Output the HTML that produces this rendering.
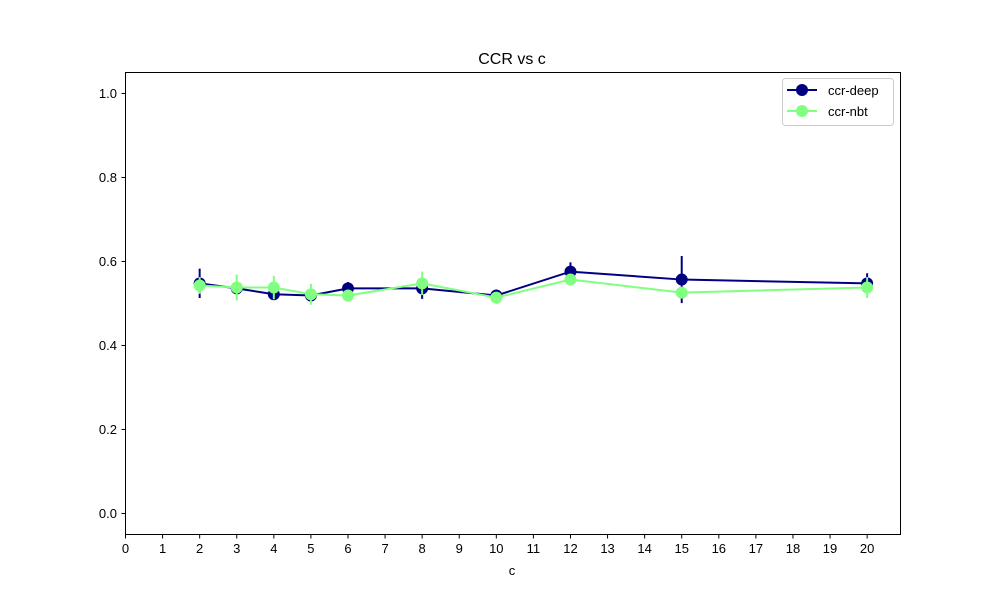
<!DOCTYPE html>
<html><head><meta charset="utf-8"><style>body{margin:0;background:#fff}svg{font-family:"Liberation Sans","DejaVu Sans",sans-serif}</style></head>
<body>
<svg id="chart" width="1000" height="600">
<rect width="1000" height="600" fill="#fff"/>
<text x="512" y="64" text-anchor="middle" font-size="16">CCR vs c</text>
<g id="axes"></g>
<g id="series"></g>
<rect x="125.5" y="72.5" width="775" height="462" fill="none" stroke="#000" stroke-width="1"/>
<text x="512" y="575" text-anchor="middle" font-size="13">c</text>
<g>
<rect x="782.5" y="78.5" width="111" height="47" rx="3" fill="#fff" stroke="#ccc"/>
<line x1="787" y1="90" x2="817" y2="90" stroke="#000080" stroke-width="2"/><circle cx="802" cy="90" r="6" fill="#000080"/>
<text x="828" y="95" font-size="13">ccr-deep</text>
<line x1="787" y1="111" x2="817" y2="111" stroke="#80ff80" stroke-width="2"/><circle cx="802" cy="111" r="6" fill="#80ff80"/>
<text x="828" y="116" font-size="13">ccr-nbt</text>
</g>
</svg>
<script>
const xs = [2,3,4,5,6,8,10,12,15,20];
const deepVals = [0.548,0.536,0.522,0.519,0.536,0.536,0.519,0.576,0.557,0.548];
const deepErr = [0.035,0.01,0.01,0.008,0.015,0.025,0.006,0.022,0.056,0.024];
const nbtVals = [0.543,0.538,0.538,0.522,0.519,0.548,0.514,0.557,0.526,0.538];
const nbtErr = [0.02,0.031,0.028,0.025,0.008,0.028,0.006,0.01,0.008,0.025];
const xTicks = [0,1,2,3,4,5,6,7,8,9,10,11,12,13,14,15,16,17,18,19,20];
const yTicks = [0.0,0.2,0.4,0.6,0.8,1.0];
const X = v => 125.5 + v/20.9*775;
const Y = v => 534.5 - (v+0.05)/1.1*462;
const NS="http://www.w3.org/2000/svg";
function mk(tag,attrs,parent){const e=document.createElementNS(NS,tag);for(const k in attrs)e.setAttribute(k,attrs[k]);parent.appendChild(e);return e;}
const ax=document.getElementById('axes');
xTicks.forEach(t=>{
  const l=mk('line',{x1:X(t),x2:X(t),y1:534.5,y2:538.5,stroke:'#000'},ax);
  
  
  const tx=mk('text',{x:X(t),y:553,'text-anchor':'middle','font-size':13},ax);tx.textContent=t;
  
  
});
yTicks.forEach(t=>{
  const l=mk('line',{x1:121.5,x2:125.5,y1:Y(t),y2:Y(t),stroke:'#000'},ax);
  
  
  const tx=mk('text',{x:117,y:Y(t)+4.5,'text-anchor':'end','font-size':13},ax);tx.textContent=t.toFixed(1);
  
  
});
const sg=document.getElementById('series');
function draw(vals,errs,color,name){
  const g=mk('g',{},sg);
  
  
  const p=mk('polyline',{points:xs.map((x,i)=>X(x)+','+Y(vals[i])).join(' '),fill:'none',stroke:color,'stroke-width':2},g);
  
  
  xs.forEach((x,i)=>{
    const e=mk('line',{x1:X(x),x2:X(x),y1:Y(vals[i]-errs[i]),y2:Y(vals[i]+errs[i]),stroke:color,'stroke-width':2},g);
    
    
    const c=mk('circle',{cx:X(x),cy:Y(vals[i]),r:6,fill:color},g);
    
    
  });
}
draw(deepVals,deepErr,'#000080','ccr-deep');
draw(nbtVals,nbtErr,'#80ff80','ccr-nbt');
</script>
</body></html>
